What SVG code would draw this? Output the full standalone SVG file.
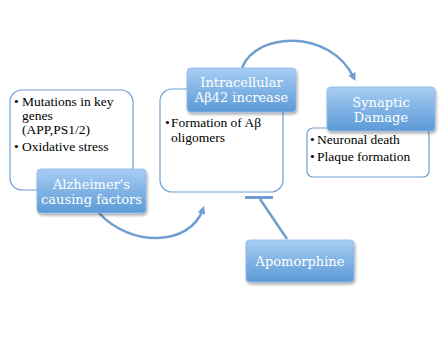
<svg xmlns="http://www.w3.org/2000/svg" width="448" height="340" viewBox="0 0 448 340">
<style>
.wbox{fill:#ffffff;stroke:#6f9fd0;stroke-width:1.2}
.bbox{fill:url(#bg);stroke:#8fb8e6;stroke-width:0.8;filter:url(#sh)}
.bt{font-family:"DejaVu Serif","Liberation Serif",serif;font-size:13px;fill:#ffffff;text-anchor:middle}
.tt{font-family:"Liberation Serif",serif;font-size:13.5px;fill:#000000}
.conn{fill:none;stroke:#6f9fd0;stroke-width:2.5}
</style>
<defs>
<linearGradient id="bg" x1="0" y1="0" x2="0" y2="1">
<stop offset="0" stop-color="#a8cdf4"/>
<stop offset="1" stop-color="#5b9ad6"/>
</linearGradient>
<filter id="sh" x="-10%" y="-10%" width="125%" height="135%">
<feGaussianBlur in="SourceAlpha" stdDeviation="1.5"/>
<feOffset dx="1" dy="2" result="o"/>
<feComponentTransfer><feFuncA type="linear" slope="0.35"/></feComponentTransfer>
<feMerge><feMergeNode/><feMergeNode in="SourceGraphic"/></feMerge>
</filter>
<marker id="ah" viewBox="0 0 10 10" refX="6" refY="5" markerWidth="3.2" markerHeight="3.2" orient="auto">
<path d="M0,0 L10,5 L0,10 z" fill="#6f9fd0"/>
</marker>
</defs>
<g id="connectors">
<path class="conn" d="M 242 68 C 255 32, 330 28, 354 78" marker-end="url(#ah)"/>
<path class="conn" d="M 99 213 C 130 247, 190 247, 203 209" marker-end="url(#ah)"/>
<line x1="245" y1="197.5" x2="273" y2="197.5" stroke="#6f9fd0" stroke-width="3"/>
<line x1="260" y1="199" x2="287" y2="239" class="conn"/>
</g>
<g id="causes">
<rect class="wbox" x="10" y="90" width="123" height="100" rx="12"/>
<text class="tt" x="14" y="106">•<tspan x="22">Mutations in key</tspan></text>
<text class="tt" x="22" y="120">genes</text>
<text class="tt" x="22" y="134">(APP,PS1/2)</text>
<text class="tt" x="14" y="151">•<tspan x="22">Oxidative stress</tspan></text>
</g>
<g id="alz">
<rect class="bbox" x="37" y="169" width="109" height="44" rx="4"/>
<text class="bt" x="91.5" y="189">Alzheimer's</text>
<text class="bt" x="91.5" y="204">causing factors</text>
</g>
<g id="oligo">
<rect class="wbox" x="160" y="89" width="123" height="103" rx="12"/>
<text class="tt" x="165" y="127">•<tspan x="171">Formation of Aβ</tspan></text>
<text class="tt" x="171" y="142">oligomers</text>
</g>
<g id="intra">
<rect class="bbox" x="187" y="68" width="109" height="44" rx="4"/>
<text class="bt" x="241.5" y="87">Intracellular</text>
<text class="bt" x="241.5" y="102">Aβ42 increase</text>
</g>
<g id="damage">
<rect class="wbox" x="307" y="128" width="122" height="49" rx="6"/>
<text class="tt" x="310" y="144">•<tspan x="317">Neuronal death</tspan></text>
<text class="tt" x="310" y="161">•<tspan x="317">Plaque formation</tspan></text>
</g>
<g id="synaptic">
<rect class="bbox" x="327" y="87" width="108" height="44" rx="4"/>
<text class="bt" x="381" y="107">Synaptic</text>
<text class="bt" x="381" y="122">Damage</text>
</g>
<g id="apomorphine">
<rect class="bbox" x="246" y="240" width="108" height="42" rx="4"/>
<text class="bt" x="300" y="266">Apomorphine</text>
</g>
</svg>
